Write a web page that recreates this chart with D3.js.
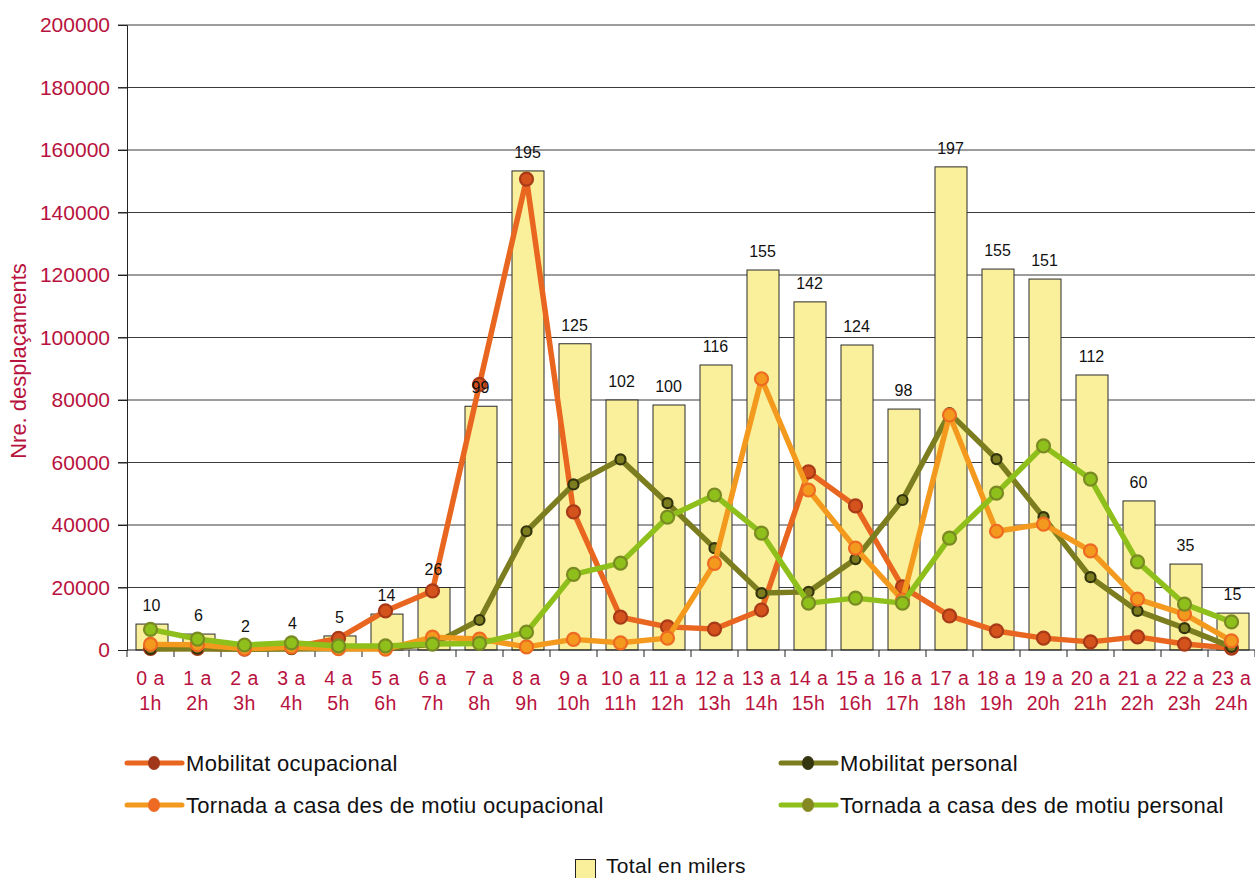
<!DOCTYPE html>
<html>
<head>
<meta charset="utf-8">
<script src="https://cdn.jsdelivr.net/npm/d3@7"></script>
<style>
  body { margin: 0; background: #fff; }
  svg { font-family: "Liberation Sans", Arial, sans-serif; }
</style>
</head>
<body>
<svg width="1255" height="878"></svg>
<script>
// hours of the day
const hores = ['0 a|1h','1 a|2h','2 a|3h','3 a|4h','4 a|5h','5 a|6h','6 a|7h','7 a|8h','8 a|9h','9 a|10h',
  '10 a|11h','11 a|12h','12 a|13h','13 a|14h','14 a|15h','15 a|16h','16 a|17h','17 a|18h','18 a|19h','19 a|20h',
  '20 a|21h','21 a|22h','22 a|23h','23 a|24h'];

// total (bars) and its label in thousands
const total = [8300,5100,1500,2500,4500,11500,20000,78000,153300,98000,80000,78400,91200,121600,111400,97600,
  77100,154600,121900,118700,88000,47700,27500,11800];
const totalMilers = [10,6,2,4,5,14,26,99,195,125,102,100,116,155,142,124,98,197,155,151,112,60,35,15];

const mobOcupacional = [500,500,300,800,3700,12500,18900,85000,150700,44200,10500,7400,6700,12800,57000,46100,
  20200,10900,6100,3800,2600,4200,1900,600];
const mobPersonal = [300,400,200,300,400,500,1800,9600,38000,53000,61000,47000,32600,18200,18600,29100,
  48000,75800,61100,42500,23300,12500,7000,1000];
const tornOcupacional = [1800,1700,400,900,400,300,4100,3500,1000,3400,2300,3800,27700,86800,51200,32600,
  16000,75200,38000,40300,31700,16300,11500,2900];
const tornPersonal = [6600,3500,1600,2300,1300,1300,1900,2100,5700,24200,27800,42500,49600,37400,15000,16600,
  15000,35800,50200,65300,54700,28200,14700,9000];

const yTicks = [0,20000,40000,60000,80000,100000,120000,140000,160000,180000,200000];

const series = [
  {name: 'Mobilitat ocupacional', values: mobOcupacional, line: '#E8661F', fill: '#D4521C', stroke: '#A83A18', r: 6.5},
  {name: 'Mobilitat personal', values: mobPersonal, line: '#7C7D1F', fill: '#7C7D1F', stroke: '#33330E', r: 5},
  {name: 'Tornada a casa des de motiu ocupacional', values: tornOcupacional, line: '#F39A1E', fill: '#F39A1E', stroke: '#EE6A22', r: 6.5},
  {name: 'Tornada a casa des de motiu personal', values: tornPersonal, line: '#8EBF1B', fill: '#8EBF1B', stroke: '#7A8A22', r: 6.5}
];

const svg = d3.select('svg');
const mLeft = 127, mRight = 1255, mTop = 25, mBottom = 650;
const crimson = '#B8123E';

const x = d3.scaleBand().domain(hores).range([mLeft, mRight]).paddingInner(0).paddingOuter(0);
const y = d3.scaleLinear().domain([0, 200000]).range([mBottom, mTop]);

// gridlines
svg.append('g').selectAll('line').data(yTicks.filter(d => d > 0)).join('line')
  .attr('x1', mLeft - 9).attr('x2', mRight)
  .attr('y1', d => y(d)).attr('y2', d => y(d))
  .attr('stroke', '#3a3a3a').attr('stroke-width', 1);

// y axis
const yAxis = svg.append('g').attr('transform', `translate(${mLeft},0)`)
  .call(d3.axisLeft(y).tickValues(yTicks).tickFormat(d3.format('d')).tickSize(9).tickPadding(8));
yAxis.select('.domain').attr('stroke', '#222');
yAxis.selectAll('.tick line').attr('stroke', '#222');
yAxis.selectAll('.tick text').attr('fill', crimson).style('font-size', '21px')
  .style('font-family', '"Liberation Sans", Arial, sans-serif');

svg.append('text')
  .attr('transform', `translate(26,361) rotate(-90)`)
  .attr('text-anchor', 'middle')
  .attr('fill', crimson).style('font-size', '22px')
  .text('Nre. desplaçaments');

// bars
const barW = 32;
svg.append('g').selectAll('rect').data(total).join('rect')
  .attr('x', (d, i) => x(hores[i]) + x.bandwidth() / 2 - barW / 2 + 1.5)
  .attr('y', d => y(d))
  .attr('width', barW)
  .attr('height', d => mBottom - y(d))
  .attr('fill', '#FAF09B')
  .attr('stroke', '#2a2a2a').attr('stroke-width', 1);

// x axis
svg.append('line').attr('x1', mLeft).attr('x2', mRight).attr('y1', mBottom).attr('y2', mBottom)
  .attr('stroke', '#222');
svg.append('g').selectAll('line').data(d3.range(hores.length + 1)).join('line')
  .attr('x1', i => mLeft + i * x.bandwidth()).attr('x2', i => mLeft + i * x.bandwidth())
  .attr('y1', mBottom).attr('y2', mBottom + 7)
  .attr('stroke', '#222');
const xl = svg.append('g').selectAll('text').data(hores).join('text')
  .attr('x', d => x(d) + x.bandwidth() / 2)
  .attr('text-anchor', 'middle')
  .attr('fill', crimson).style('font-size', '19.5px').style('letter-spacing', '0.4px');
xl.append('tspan').attr('x', d => x(d) + x.bandwidth() / 2).attr('y', 685).text(d => d.split('|')[0]);
xl.append('tspan').attr('x', d => x(d) + x.bandwidth() / 2).attr('y', 710).text(d => d.split('|')[1]);

// lines
const cx = i => x(hores[i]) + x.bandwidth() / 2;
series.forEach(s => {
  const line = d3.line().x((d, i) => cx(i)).y(d => y(d));
  svg.append('path').datum(s.values)
    .attr('d', line)
    .attr('fill', 'none')
    .attr('stroke', s.line).attr('stroke-width', 5.5)
    .attr('stroke-linejoin', 'round');
  svg.append('g').selectAll('circle').data(s.values).join('circle')
    .attr('cx', (d, i) => cx(i)).attr('cy', d => y(d))
    .attr('r', s.r)
    .attr('fill', s.fill)
    .attr('stroke', s.stroke).attr('stroke-width', 2.2);
});

// bar labels
svg.append('g').selectAll('text').data(totalMilers).join('text')
  .attr('x', (d, i) => cx(i) + 1)
  .attr('y', (d, i) => y(total[i]) - 13)
  .attr('text-anchor', 'middle')
  .attr('fill', '#111').style('font-size', '16px')
  .text(d => d);

// legend
const legendItems = [
  {s: series[0], x: 127, y: 763, dot: '#A0371B'},
  {s: series[1], x: 781, y: 763, dot: '#34360F'},
  {s: series[2], x: 127, y: 805, dot: '#EE6A22'},
  {s: series[3], x: 781, y: 805, dot: '#858A22'}
];
const lg = svg.append('g').selectAll('g').data(legendItems).join('g')
  .attr('transform', d => `translate(${d.x},${d.y})`);
lg.append('line').attr('x1', 0).attr('x2', 55).attr('y1', 0).attr('y2', 0)
  .attr('stroke', d => d.s.line).attr('stroke-width', 5).attr('stroke-linecap', 'round');
lg.append('ellipse').attr('cx', 27).attr('cy', 0).attr('rx', 6).attr('ry', 7)
  .attr('fill', d => d.dot);
lg.append('text').attr('x', 59).attr('y', 8)
  .attr('fill', '#111').style('font-size', '22px').style('letter-spacing', '0.3px')
  .text(d => d.s.name);

svg.append('rect').attr('x', 575.5).attr('y', 859.5).attr('width', 20).attr('height', 22)
  .attr('fill', '#FAF09B').attr('stroke', '#222').attr('stroke-width', 1);
svg.append('text').attr('x', 606).attr('y', 873)
  .attr('fill', '#111').style('font-size', '21px').style('letter-spacing', '0.3px')
  .text('Total en milers');
</script>
</body>
</html>
